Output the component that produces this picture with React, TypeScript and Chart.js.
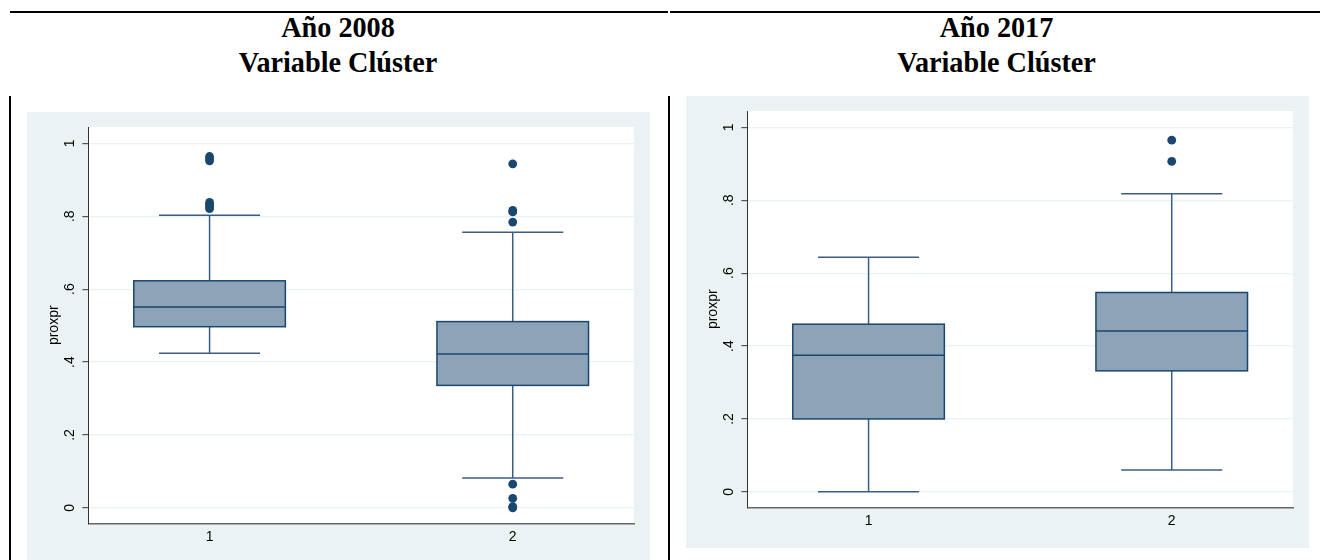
import React, { useEffect, useRef } from "react";
import { Chart, registerables } from "chart.js";

Chart.register(...registerables);

// ---------- data ----------
const categories = [1, 2];
const xTickLabels = ["1", "2"];
const yTickValues = [0, 0.2, 0.4, 0.6, 0.8, 1];
const yTickLabels = ["0", ".2", ".4", ".6", ".8", "1"];
const yAxisTitle = "proxpr";

const title2008 = ["Año 2008", "Variable Clúster"];
const title2017 = ["Año 2017", "Variable Clúster"];

// Año 2008
const lower2008 = [0.424, 0.082];
const q1_2008 = [0.497, 0.336];
const median2008 = [0.551, 0.422];
const q3_2008 = [0.623, 0.511];
const upper2008 = [0.803, 0.756];
const outliers2008Cat1 = [0.964, 0.958, 0.952, 0.838, 0.832, 0.826, 0.821];
const outliers2008Cat2 = [0.944, 0.816, 0.812, 0.784, 0.065, 0.026, 0.003, 0.0];

// Año 2017
const lower2017 = [0.0, 0.06];
const q1_2017 = [0.2, 0.332];
const median2017 = [0.375, 0.441];
const q3_2017 = [0.46, 0.547];
const upper2017 = [0.644, 0.818];
const outliers2017Cat1: number[] = [];
const outliers2017Cat2 = [0.965, 0.907];

// ---------- styling ----------
const PANEL_BG = "#EAF2F3";
const NAVY = "#1A476F";
const BOX_FILL = "#8DA3B8";
const WHISKER = "#3A5D86";
const SANS = '"Liberation Sans", Arial, sans-serif';

type PanelProps = {
  lower: number[];
  q1: number[];
  median: number[];
  q3: number[];
  upper: number[];
  outliers: number[][];
};

function BoxPanel(props: PanelProps) {
  const ref = useRef<HTMLCanvasElement | null>(null);

  useEffect(() => {
    if (!ref.current) return;
    const { lower, q1, median, q3, upper, outliers } = props;

    const boxPlugin = {
      id: "boxes",
      beforeDraw(chart: any) {
        const { ctx, chartArea: a } = chart;
        ctx.save();
        ctx.fillStyle = PANEL_BG;
        ctx.fillRect(0, 0, chart.width, chart.height);
        ctx.fillStyle = "#ffffff";
        ctx.fillRect(a.left, a.top, a.right - a.left, a.bottom - a.top);
        ctx.restore();
      },
      beforeDatasetsDraw(chart: any) {
        const { ctx } = chart;
        const xs = chart.scales.x;
        const ys = chart.scales.y;
        ctx.save();
        categories.forEach((c, i) => {
          const cx = xs.getPixelForValue(c);
          const bl = xs.getPixelForValue(c - 0.25);
          const br = xs.getPixelForValue(c + 0.25);
          const cl = xs.getPixelForValue(c - 0.1667);
          const cr = xs.getPixelForValue(c + 0.1667);
          const yLo = ys.getPixelForValue(lower[i]);
          const yQ1 = ys.getPixelForValue(q1[i]);
          const yMed = ys.getPixelForValue(median[i]);
          const yQ3 = ys.getPixelForValue(q3[i]);
          const yHi = ys.getPixelForValue(upper[i]);
          // whiskers
          ctx.strokeStyle = WHISKER;
          ctx.lineWidth = 1.5;
          ctx.beginPath();
          ctx.moveTo(cx, yQ3);
          ctx.lineTo(cx, yHi);
          ctx.moveTo(cx, yQ1);
          ctx.lineTo(cx, yLo);
          ctx.moveTo(cl, yHi);
          ctx.lineTo(cr, yHi);
          ctx.moveTo(cl, yLo);
          ctx.lineTo(cr, yLo);
          ctx.stroke();
          // box
          ctx.fillStyle = BOX_FILL;
          ctx.fillRect(bl, yQ3, br - bl, yQ1 - yQ3);
          ctx.strokeStyle = NAVY;
          ctx.lineWidth = 1.5;
          ctx.strokeRect(bl, yQ3, br - bl, yQ1 - yQ3);
          // median
          ctx.beginPath();
          ctx.moveTo(bl, yMed);
          ctx.lineTo(br, yMed);
          ctx.stroke();
        });
        ctx.restore();
      },
      afterDraw(chart: any) {
        const { ctx } = chart;
        const ys = chart.scales.y;
        ctx.save();
        ctx.font = "14px " + SANS;
        ctx.fillStyle = "#000";
        ctx.textAlign = "center";
        ctx.textBaseline = "middle";
        yTickValues.forEach((v, i) => {
          const py = ys.getPixelForValue(v);
          ctx.save();
          ctx.translate(43.5, py);
          ctx.rotate(-Math.PI / 2);
          ctx.fillText(yTickLabels[i], 0, 0);
          ctx.restore();
        });
        ctx.restore();
      },
    };

    const outlierPoints: { x: number; y: number }[] = [];
    categories.forEach((c, i) => {
      (outliers[i] || []).forEach((v) => outlierPoints.push({ x: c, y: v }));
    });

    const chart = new Chart(ref.current, {
      type: "scatter",
      data: {
        datasets: [
          {
            label: "outliers",
            data: outlierPoints,
            backgroundColor: NAVY,
            borderColor: NAVY,
            borderWidth: 0,
            pointRadius: 4.4,
            pointHoverRadius: 4.4,
          },
        ],
      },
      options: {
        animation: false,
        responsive: false,
        maintainAspectRatio: false,
        devicePixelRatio: 1,
        events: [],
        layout: { padding: { top: 15, right: 16, bottom: 0, left: 0 } },
        plugins: {
          legend: { display: false },
          tooltip: { enabled: false },
          title: { display: false },
        },
        scales: {
          x: {
            type: "linear",
            min: 0.6,
            max: 2.4,
            afterBuildTicks: (s: any) => {
              s.ticks = categories.map((v) => ({ value: v }));
            },
            ticks: {
              autoSkip: false,
              maxRotation: 0,
              minRotation: 0,
              padding: 5,
              color: "#000",
              font: { family: SANS, size: 14 },
              callback: (v: any) => xTickLabels[categories.indexOf(Number(v))] ?? "",
            },
            grid: { display: false, drawTicks: false },
            border: { display: true, color: "#666", width: 1.5 },
            afterFit: (s: any) => {
              s.height = 40.5;
            },
          },
          y: {
            type: "linear",
            min: -0.043,
            max: 1.045,
            afterBuildTicks: (s: any) => {
              s.ticks = yTickValues.map((v) => ({ value: v }));
            },
            ticks: { display: false },
            grid: {
              color: PANEL_BG,
              lineWidth: 1.2,
              drawTicks: true,
              tickLength: 6,
              tickColor: "#555",
            },
            border: { display: true, color: "#333", width: 1 },
            title: {
              display: true,
              text: yAxisTitle,
              color: "#000",
              font: { family: SANS, size: 14 },
              padding: { top: 19, bottom: 0 },
            },
            afterFit: (s: any) => {
              s.width = 61.3;
            },
          },
        },
      } as any,
      plugins: [boxPlugin],
    });

    return () => {
      chart.destroy();
    };
  }, []);

  return <canvas ref={ref} width={623} height={452} style={{ display: "block", width: 623, height: 452 }} />;
}

function Title({ lines, left, width }: { lines: string[]; left: number; width: number }) {
  return (
    <div
      style={{
        position: "absolute",
        left,
        top: 9.4,
        width,
        textAlign: "center",
        fontFamily: '"Liberation Serif", "Times New Roman", serif',
        fontWeight: "bold",
        fontSize: 30,
        lineHeight: "35px",
        color: "#000",
        transform: "scaleX(0.94)",
        transformOrigin: "center",
      }}
    >
      {lines.map((l, i) => (
        <div key={i}>{l}</div>
      ))}
    </div>
  );
}

export default function App() {
  return (
    <div
      style={{
        position: "fixed",
        left: 0,
        top: 0,
        width: 1325,
        height: 560,
        background: "#fff",
        overflow: "hidden",
      }}
    >
      {/* table rules */}
      <div style={{ position: "absolute", left: 10, top: 11, width: 658, height: 2, background: "#000" }} />
      <div style={{ position: "absolute", left: 670, top: 11, width: 650, height: 2, background: "#000" }} />
      <div style={{ position: "absolute", left: 9, top: 96, width: 2, height: 464, background: "#000" }} />
      <div style={{ position: "absolute", left: 668, top: 96, width: 2, height: 464, background: "#000" }} />

      <Title lines={title2008} left={8} width={660} />
      <Title lines={title2017} left={668} width={657} />

      <div style={{ position: "absolute", left: 27, top: 112 }}>
        <BoxPanel
          lower={lower2008}
          q1={q1_2008}
          median={median2008}
          q3={q3_2008}
          upper={upper2008}
          outliers={[outliers2008Cat1, outliers2008Cat2]}
        />
      </div>
      <div style={{ position: "absolute", left: 686, top: 96 }}>
        <BoxPanel
          lower={lower2017}
          q1={q1_2017}
          median={median2017}
          q3={q3_2017}
          upper={upper2017}
          outliers={[outliers2017Cat1, outliers2017Cat2]}
        />
      </div>
    </div>
  );
}
